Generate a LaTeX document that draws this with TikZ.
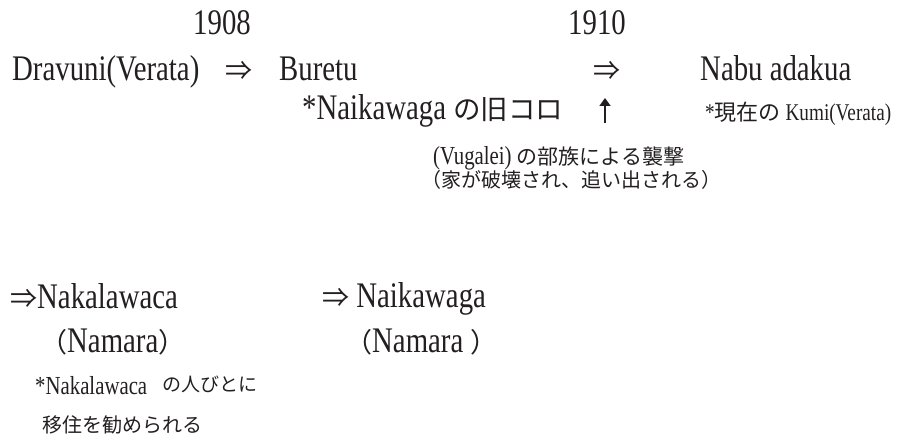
\documentclass[tikz,border=0pt]{standalone}
\usepackage{fontspec}
\usetikzlibrary{arrows.meta}
\setmainfont{Liberation Serif}[FakeStretch=0.8]
\newfontfamily\jp{Noto Sans CJK JP}
\newcommand{\jt}[2]{{\jp\fontsize{#1}{#1}\selectfont #2}}
\definecolor{ink}{HTML}{231F20}
\tikzset{
  lbl/.style={anchor=base west, inner sep=0pt, text=ink, font=\fontsize{36}{38}\selectfont},
  yr/.style={lbl, anchor=base},
  sml/.style={lbl, font=\fontsize{26}{28}\selectfont},
  smk/.style={lbl, font=\fontsize{24}{26}\selectfont}
}
\begin{document}
\begin{tikzpicture}[x=1pt, y=-1pt]
    \useasboundingbox (0,0) rectangle (909,438);

    % Years
    \node[yr] (y1908) at (222,35) {1908};
    \node[yr] (y1910) at (597,35) {1910};

    % First route
    \node[lbl] (dravuni) at (12,81) {Dravuni(Verata)};
    \node[lbl] (arr1) at (225,81) {\jt{27}{⇒}};
    \node[lbl] (buretu) at (279,81) {Buretu};
    \node[lbl] (arr2) at (593,81) {\jt{27}{⇒}};
    \node[lbl] (nabu) at (700,81) {Nabu adakua};

    % Notes under the first route
    \node[lbl] (oldkoro) at (302,120) {*Naikawaga \jt{27.5}{の旧コロ}};
    \coordinate (upfoot) at (605,123);
    \coordinate (uptip) at (605,98);
    \draw[ink, line width=1.8pt, -{Triangle[length=8pt, width=11pt]}] (upfoot) -- (uptip);
    \node[smk] (kumi) at (705,121) {*\jt{22}{現在の} Kumi(Verata)};

    % Attack
    \node[sml] (attack) at (433,165) {(Vugalei) \jt{21}{の部族による襲撃}};
    \node[lbl] (driven) at (421,188) {\jt{20}{（家が破壊され、追い出される）}};

    % Second route
    \node[lbl] (nakala) at (10,308) {\jt{27}{⇒}Nakalawaca};
    \node[lbl] (naikawaga) at (322,307) {\jt{27}{⇒} Naikawaga};
    \node[lbl] (namara1) at (40,352) {\jt{27}{（}Namara\jt{27}{）}};
    \node[lbl] (namara2) at (345,352) {\jt{27}{（}Namara \jt{27}{）}};

    % Notes under the second route
    \node[sml] (people) at (35,394) {*Nakalawaca\hspace{15pt}\raisebox{3pt}{\jt{19}{の人びとに}}};
    \node[lbl] (moved) at (42,432) {\jt{20}{移住を勧められる}};
\end{tikzpicture}
\end{document}
